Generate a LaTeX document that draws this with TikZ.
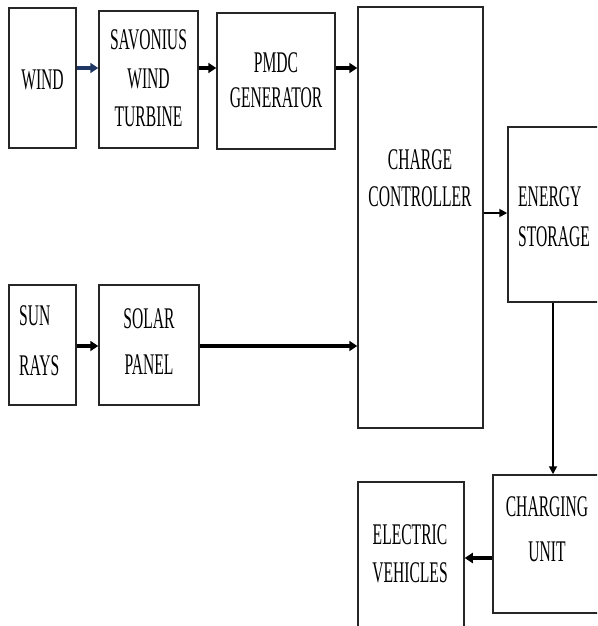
\documentclass[tikz,border=0pt]{standalone}
\usepackage{fontspec}
\usetikzlibrary{arrows.meta}
\newfontfamily\boxfont[FakeStretch=0.52]{Liberation Serif}
\definecolor{navyarrow}{HTML}{1F3864}

\begin{document}
\begin{tikzpicture}[x=1pt, y=-1pt, line join=miter,
  blk/.style={draw=black!85, line width=1.5pt, rectangle, inner sep=0pt},
  lbl/.style={inner sep=0pt, align=center, font=\boxfont\fontsize{30}{38}\selectfont},
  flow/.style={line width=3.2pt, -{Triangle[length=8pt,width=10pt]}},
  slimflow/.style={line width=1.8pt, -{Triangle[length=8pt,width=8pt]}}]

  % 画布先钉死，右边和底下的框本来就被切掉了一截
  \path[use as bounding box] (0,0) rectangle (597,626);
  \begin{scope}
  \clip (0,0) rectangle (597,626);

  %% ════ 方框 ════
  \node[blk, minimum width=67pt,  minimum height=140pt] (wind)  at ( 42.5, 78.0) {};
  \node[blk, minimum width=99pt,  minimum height=137pt] (sav)   at (148.5, 79.5) {};
  \node[blk, minimum width=118pt, minimum height=136pt] (pmdc)  at (276.0, 81.0) {};
  \node[blk, minimum width=125pt, minimum height=421pt] (cc)    at (420.5,217.5) {};
  \node[blk, minimum width=132pt, minimum height=175pt] (es)    at (574.0,214.5) {};
  \node[blk, minimum width=67pt,  minimum height=120pt] (sun)   at ( 42.5,345.0) {};
  \node[blk, minimum width=100pt, minimum height=120pt] (solar) at (149.0,345.0) {};
  \node[blk, minimum width=147pt, minimum height=138pt] (cu)    at (566.5,544.0) {};
  \node[blk, minimum width=106pt, minimum height=198pt] (ev)    at (411.0,581.0) {};

  %% ════ 文字 ════
  \node[lbl] (windtxt)  at ( 42.5, 80.0) {WIND};
  \node[lbl, font=\boxfont\fontsize{30}{38.5}\selectfont] (savtxt) at (148.5, 78.5) {SAVONIUS\\WIND\\TURBINE};
  \node[lbl, font=\boxfont\fontsize{30}{35}\selectfont]   (pmdctxt) at (276.0, 80.5) {PMDC\\GENERATOR};
  \node[lbl, font=\boxfont\fontsize{30}{37}\selectfont]   (cctxt)   at (420.0,178.5) {CHARGE\\CONTROLLER};
  \node[lbl, font=\boxfont\fontsize{30}{40}\selectfont, align=left, anchor=west] (estxt) at (518.0,217.0) {ENERGY\\STORAGE};
  \node[lbl, font=\boxfont\fontsize{30}{50}\selectfont, align=left, anchor=west] (suntxt) at ( 19.0,341.0) {SUN\\RAYS};
  \node[lbl, font=\boxfont\fontsize{30}{46}\selectfont]   (solartxt) at (149.0,341.5) {SOLAR\\PANEL};
  \node[lbl, font=\boxfont\fontsize{30}{45}\selectfont]   (cutxt)   at (547.0,529.5) {CHARGING\\UNIT};
  \node[lbl]                                              (evtxt)   at (410.0,554.0) {ELECTRIC\\VEHICLES};

  %% ════ 箭头 ════
  \coordinate (rowwind)  at (0,68);
  \coordinate (rowsolar) at (0,346);
  \coordinate (rowstore) at (0,213);
  \coordinate (rowev)    at (0,558);
  \coordinate (colstore) at (553,0);

  \draw[flow, draw=navyarrow] (wind.east |- rowwind) -- (sav.west |- rowwind);
  \draw[flow] (sav.east |- rowwind)  -- (pmdc.west |- rowwind);
  \draw[flow] (pmdc.east |- rowwind) -- (cc.west |- rowwind);
  \draw[flow] (sun.east |- rowsolar)   -- (solar.west |- rowsolar);
  \draw[flow] (solar.east |- rowsolar) -- (cc.west |- rowsolar);
  \draw[slimflow] (cc.east |- rowstore)  -- (es.west |- rowstore);
  \draw[slimflow] (es.south -| colstore) -- (cu.north -| colstore);
  \draw[flow] (cu.west |- rowev) -- (ev.east |- rowev);
  \end{scope}
\end{tikzpicture}
\end{document}
